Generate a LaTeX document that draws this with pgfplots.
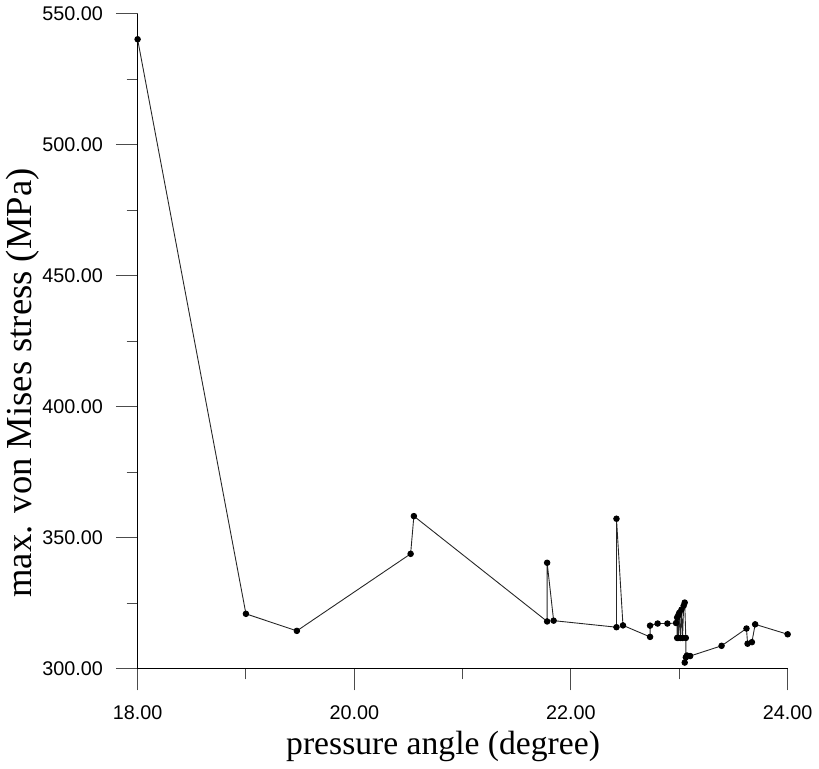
\documentclass[border=0pt]{standalone}
\usepackage{fontspec}
\setmainfont{Liberation Sans}
\newfontfamily\timesfont{Liberation Serif}
\usepackage{pgfplots}
\pgfplotsset{compat=1.18}

\pgfplotstableread{
x y
18.00 540.2
19.00 320.9
19.47 314.4
20.52 343.8
20.55 358.2
21.78 318.0
21.78 340.4
21.84 318.3
22.42 315.8
22.42 357.2
22.48 316.5
22.73 312.1
22.73 316.4
22.80 317.2
22.89 317.2
22.97 317.4
22.98 319.5
22.98 311.7
22.99 320.3
22.99 311.7
23.00 321.3
23.01 311.7
23.02 322.5
23.03 311.7
23.04 324.0
23.05 325.2
23.06 311.7
23.06 304.3
23.05 302.3
23.07 305.0
23.10 304.8
23.39 308.7
23.62 315.3
23.63 309.5
23.67 310.1
23.70 316.9
24.00 313.1
}\stress

\begin{document}
\begin{tikzpicture}
\begin{axis}[
    scale only axis,
    width=328.5pt,
    height=331pt,
    xmin=18, xmax=24,
    ymin=300, ymax=550,
    axis x line=bottom,
    axis y line=left,
    axis line style={-, line width=0.7pt},
    xtick={18,20,22,24},
    ytick={300,350,400,450,500,550},
    minor x tick num=1,
    minor y tick num=1,
    tick align=outside,
    major tick length=11pt,
    minor tick length=5.5pt,
    tick style={line width=0.5pt, black!70},
    /pgf/number format/.cd, fixed, fixed zerofill, precision=2, assume math mode=true,
    /pgfplots/.cd,
    ticklabel style={font=\fontsize{10}{12}\selectfont},
    xticklabel style={yshift=-4pt},
    yticklabel style={xshift=-3pt},
    xlabel={\timesfont\fontsize{17}{20}\selectfont pressure angle (degree)},
    ylabel={\timesfont\fontsize{18.5}{21}\selectfont max. von Mises stress (MPa)},
    xlabel style={at={(axis description cs:0.47,-0.119)}, anchor=center},
    ylabel style={at={(axis description cs:-0.176,0.436)}, anchor=center},
    clip=false,
]
\addplot[black!85, line width=0.45pt, mark=*, mark size=1.4pt,
    mark options={fill=black, draw=black}] table[x=x, y=y] {\stress};
\end{axis}
\end{tikzpicture}
\end{document}
